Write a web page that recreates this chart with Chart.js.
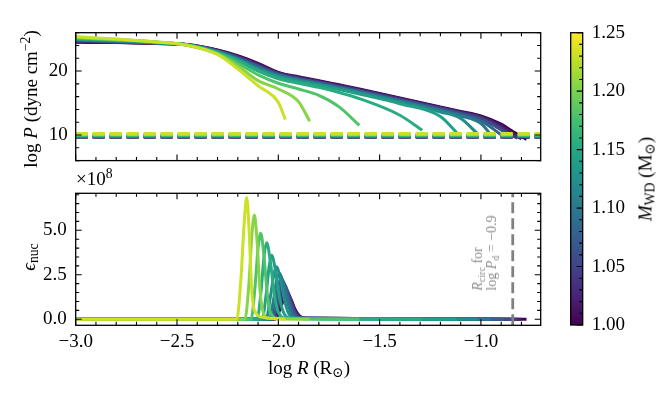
<!DOCTYPE html>
<html>
<head>
<meta charset="utf-8">
<script src="https://cdn.jsdelivr.net/npm/chart.js@4.4.0/dist/chart.umd.min.js"></script>
<style>
  body { margin: 0; background: #fff; }
  #wrap { position: relative; width: 671px; height: 396px; overflow: hidden; font-family: 'Liberation Serif', 'DejaVu Serif', serif; color: #000; }
  canvas { position: absolute; }
  .lbl { position: absolute; white-space: nowrap; font-size: 19px; line-height: 1; }
  .rot { transform: translate(-50%, -50%) rotate(-90deg); }
  .ctr { transform: translate(-50%, -50%); }
  .note { position: absolute; white-space: nowrap; font-size: 14px; line-height: 1.0; color: #8a8a8a; text-align: left; transform: translate(-50%, -50%) rotate(-90deg); }
  sub { font-size: 72%; vertical-align: -0.25em; line-height: 0; }
  sup { font-size: 72%; vertical-align: 0.5em; line-height: 0; }
</style>
</head>
<body>
<div id="wrap">
  <canvas id="top" width="560" height="180" style="left:0;top:0"></canvas>
  <canvas id="bot" width="560" height="226" style="left:0;top:170px"></canvas>
  <canvas id="cbar" width="111" height="396" style="left:560px;top:0"></canvas>
  <div class="lbl rot" style="left:30px;top:99px">log <i>P</i> (dyne cm<sup>−2</sup>)</div>
  <div class="lbl rot" style="left:28px;top:257px"><i>ϵ</i><sub>nuc</sub></div>
  <div class="lbl" style="left:76px;top:178px;transform:translateY(-50%)">×10<sup>8</sup></div>
  <div class="lbl ctr" style="left:309px;top:367px">log <i>R</i> (R<sub>⊙</sub>)</div>
  <div class="lbl rot" style="left:645px;top:179px"><i>M</i><sub>WD</sub> (M<sub>⊙</sub>)</div>
  <div class="note" style="left:485px;top:253px"><i>R</i><sub>circ</sub> for<br>log <i>P</i><sub>d</sub> = −0.9</div>
</div>
<script>
// white dwarf masses (Msun), one curve per mass
const masses = [1.00, 1.02, 1.04, 1.06, 1.08, 1.10, 1.12, 1.14, 1.155, 1.18, 1.205, 1.23];

// top panel: log P along a common log R grid, each row cut where the profile ends
const logRGrid = [-3.0, -2.8, -2.6, -2.45, -2.3, -2.2, -2.1, -2.0, -1.9, -1.8, -1.7, -1.6, -1.4, -1.2, -1.1, -1.0, -0.9, -0.85];
const logPRows = [
  [24.50, 24.45, 24.30, 24.15, 23.30, 22.40, 21.20, 19.80, 19.10, 18.50, 17.85, 17.20, 15.80, 14.40, 13.70, 13.00, 11.70, 10.70],
  [24.60, 24.50, 24.32, 24.14, 23.25, 22.30, 21.05, 19.70, 19.00, 18.40, 17.75, 17.10, 15.70, 14.30, 13.60, 12.85, 11.40, 10.40],
  [24.70, 24.55, 24.35, 24.13, 23.20, 22.20, 20.90, 19.60, 18.90, 18.30, 17.65, 17.00, 15.60, 14.20, 13.50, 12.70, 11.10, 10.00],
  [24.80, 24.60, 24.38, 24.12, 23.15, 22.10, 20.80, 19.50, 18.80, 18.20, 17.55, 16.90, 15.50, 14.10, 13.35, 12.50, 10.80],
  [24.85, 24.65, 24.40, 24.11, 23.10, 22.00, 20.65, 19.40, 18.70, 18.10, 17.45, 16.80, 15.40, 13.95, 13.20, 12.20],
  [24.90, 24.70, 24.42, 24.10, 23.05, 21.90, 20.50, 19.30, 18.60, 18.00, 17.35, 16.70, 15.30, 13.80, 13.00, 11.80],
  [24.95, 24.75, 24.45, 24.09, 23.00, 21.80, 20.35, 19.20, 18.50, 17.90, 17.25, 16.60, 15.15, 13.60, 12.60],
  [25.00, 24.80, 24.48, 24.08, 22.95, 21.70, 20.20, 19.05, 18.35, 17.75, 17.10, 16.40, 14.90, 12.90],
  [25.10, 24.85, 24.50, 24.07, 22.90, 21.55, 20.00, 18.80, 18.10, 17.45, 16.65, 15.70, 13.10],
  [25.20, 24.90, 24.52, 24.06, 22.75, 21.20, 19.40, 18.10, 17.20, 16.20, 14.40],
  [25.30, 24.95, 24.55, 24.05, 22.65, 20.80, 18.50, 17.20, 15.20],
  [25.40, 25.00, 24.55, 24.04, 22.60, 20.30, 17.70, 15.10]
];
const logREnd = [-0.775, -0.80, -0.82, -0.85, -0.89, -0.95, -1.02, -1.12, -1.29, -1.60, -1.845, -1.965];
const logPEnd = [9.30, 9.40, 9.50, 9.60, 9.80, 10.00, 10.30, 10.40, 10.75, 11.50, 12.15, 12.40];
// dashed reference level per mass
const logPDisk = [9.70, 9.72, 9.74, 9.76, 9.79, 9.82, 9.86, 9.90, 9.95, 10.02, 10.10, 10.20];

// bottom panel: eps_nuc in units of 1e8
const epsR = [
  [-3.0, -2.015, -1.992, -1.972, -1.957, -1.937, -1.917, -1.897, -1.865, -0.775],
  [-3.0, -2.020, -1.997, -1.977, -1.962, -1.942, -1.922, -1.902, -1.870, -0.80],
  [-3.0, -2.025, -2.002, -1.983, -1.968, -1.948, -1.928, -1.908, -1.875, -0.82],
  [-3.0, -2.030, -2.008, -1.990, -1.975, -1.955, -1.935, -1.915, -1.880, -0.85],
  [-3.0, -2.035, -2.015, -1.998, -1.985, -1.965, -1.945, -1.925, -1.890, -0.89],
  [-3.0, -2.045, -2.025, -2.008, -1.995, -1.975, -1.955, -1.935, -1.900, -0.95],
  [-3.0, -2.060, -2.040, -2.022, -2.010, -1.990, -1.970, -1.950, -1.920, -1.02],
  [-3.0, -2.080, -2.060, -2.045, -2.033, -2.015, -1.995, -1.975, -1.940, -1.12],
  [-3.0, -2.105, -2.085, -2.070, -2.057, -2.040, -2.020, -2.000, -1.960, -1.29],
  [-3.0, -2.135, -2.115, -2.100, -2.087, -2.072, -2.055, -2.040, -2.000, -1.60],
  [-3.0, -2.165, -2.145, -2.130, -2.118, -2.105, -2.090, -2.075, -2.050, -1.845],
  [-3.0, -2.205, -2.185, -2.168, -2.156, -2.145, -2.132, -2.118, -2.070, -1.965]
];
const epsV = [
  [0, 0, 0.55, 1.15, 1.40, 1.10, 0.55, 0.20, 0.05, 0],
  [0, 0, 0.60, 1.30, 1.60, 1.25, 0.60, 0.20, 0.05, 0],
  [0, 0, 0.70, 1.50, 1.80, 1.40, 0.70, 0.25, 0.05, 0],
  [0, 0, 0.80, 1.70, 2.05, 1.60, 0.80, 0.25, 0.05, 0],
  [0, 0, 0.90, 1.95, 2.30, 1.80, 0.90, 0.30, 0.05, 0],
  [0, 0, 1.00, 2.20, 2.60, 2.00, 1.00, 0.30, 0.05, 0],
  [0, 0, 1.20, 2.50, 2.95, 2.30, 1.10, 0.35, 0.05, 0],
  [0, 0, 1.40, 3.00, 3.60, 2.80, 1.30, 0.40, 0.05, 0],
  [0, 0, 1.60, 3.60, 4.30, 3.30, 1.40, 0.40, 0.05, 0],
  [0, 0, 1.80, 4.00, 4.83, 3.70, 1.50, 0.40, 0.05, 0],
  [0, 0, 2.00, 4.80, 5.86, 4.40, 1.60, 0.40, 0.05, 0],
  [0, 0, 2.20, 5.50, 6.85, 5.20, 1.80, 0.50, 0.10, 0]
];
const rCirc = -0.843;  // log R_circ for log P_d = -0.9

// axis limits and ticks
const xMin = -3.0, xMax = -0.705;
const topYMin = 6.0, topYMax = 26.0;
const epsMin = -0.34, epsMax = 7.08;
const cbarMin = 1.00, cbarMax = 1.25;
const xTicks = [-3.0, -2.5, -2.0, -1.5, -1.0];
const topYTicks = [10, 20];
const epsTicks = [0, 2.5, 5.0];
const cbarTicks = [1.00, 1.05, 1.10, 1.15, 1.20, 1.25];

// viridis
const viridisStops = ['#440154', '#482475', '#414487', '#355f8d', '#2a788e', '#21918c', '#22a884', '#44bf70', '#7ad151', '#bddf26', '#fde725'];
function hexRgb(h) { return [1, 3, 5].map(i => parseInt(h.slice(i, i + 2), 16)); }
function viridis(t) {
  t = Math.min(1, Math.max(0, t));
  const s = t * 10, k = Math.min(9, Math.floor(s)), f = s - k;
  const a = hexRgb(viridisStops[k]), b = hexRgb(viridisStops[k + 1]);
  return 'rgb(' + a.map((v, i) => Math.round(v + (b[i] - v) * f)).join(',') + ')';
}
const massColor = m => viridis((m - cbarMin) / (cbarMax - cbarMin));

const FONT = { family: "'Liberation Serif', 'DejaVu Serif', serif", size: 19 };
const minus = s => s.replace('-', '\u2212');

function minorValues(min, max, step) {
  const out = [];
  for (let k = Math.ceil(min / step - 1e-9); k * step <= max + 1e-9; k++) out.push(k * step);
  return out;
}

// matplotlib style frame with inward ticks
const frameTicks = {
  id: 'frameTicks',
  afterDatasetsDraw(chart, args, o) {
    const ctx = chart.ctx, a = chart.chartArea;
    ctx.save();
    ctx.strokeStyle = '#000';
    ctx.lineWidth = 1.1;
    ctx.beginPath();
    const xs = chart.scales.x, ys = chart.scales.y;
    if (o.xMinor) {
      const marks = xs.ticks.map(t => [t.value, 6]).concat(minorValues(xs.min, xs.max, o.xMinor).map(v => [v, 3.5]));
      marks.forEach(([v, len]) => {
        const p = xs.getPixelForValue(v);
        ctx.moveTo(p, a.bottom); ctx.lineTo(p, a.bottom - len);
        ctx.moveTo(p, a.top); ctx.lineTo(p, a.top + len);
      });
    }
    if (o.yMinor) {
      const marks = ys.ticks.map(t => [t.value, 6]).concat(minorValues(ys.min, ys.max, o.yMinor).map(v => [v, 3.5]));
      marks.forEach(([v, len]) => {
        const p = ys.getPixelForValue(v);
        if (!o.rightOnly) { ctx.moveTo(a.left, p); ctx.lineTo(a.left + len, p); }
        ctx.moveTo(a.right, p); ctx.lineTo(a.right - len, p);
      });
    }
    ctx.stroke();
    ctx.lineWidth = 1.3;
    ctx.strokeRect(a.left, a.top, a.right - a.left, a.bottom - a.top);
    ctx.restore();
  }
};

const gradientFill = {
  id: 'gradientFill',
  beforeDatasetsDraw(chart) {
    const ctx = chart.ctx, a = chart.chartArea;
    const g = ctx.createLinearGradient(0, a.bottom, 0, a.top);
    viridisStops.forEach((c, i) => g.addColorStop(i / 10, c));
    ctx.save();
    ctx.fillStyle = g;
    ctx.fillRect(a.left, a.top, a.right - a.left, a.bottom - a.top);
    ctx.restore();
  }
};

const lineBase = { pointRadius: 0, showLine: true, fill: false, cubicInterpolationMode: 'monotone', borderCapStyle: 'butt', borderJoinStyle: 'round' };
const N = masses.length;

// top panel datasets
const topSets = [];
masses.forEach((m, i) => {
  const pts = logPRows[i].map((p, k) => ({ x: logRGrid[k], y: p }));
  pts.push({ x: logREnd[i], y: logPEnd[i] });
  topSets.push(Object.assign({ data: pts, borderColor: massColor(m), borderWidth: 3, order: 100 + (N - i) }, lineBase));
  topSets.push(Object.assign({}, lineBase, {
    data: [{ x: xMin, y: logPDisk[i] }, { x: xMax, y: logPDisk[i] }],
    borderColor: massColor(m), borderWidth: 3.3, borderDash: [12, 5], order: N - i, cubicInterpolationMode: 'default'
  }));
});

// bottom panel datasets
const botSets = [];
masses.forEach((m, i) => {
  const pts = epsR[i].map((r, k) => ({ x: r, y: epsV[i][k] }));
  botSets.push(Object.assign({ data: pts, borderColor: massColor(m), borderWidth: 3, order: 100 + (N - i) }, lineBase));
});
botSets.push(Object.assign({}, lineBase, {
  data: [{ x: rCirc, y: epsMin }, { x: rCirc, y: epsMax }],
  borderColor: '#808080', borderWidth: 2.8, borderDash: [11, 5], order: 0, cubicInterpolationMode: 'default'
}));

function setTicks(list) { return scale => { scale.ticks = list.map(v => ({ value: v })); }; }
function fixW(w) { return scale => { scale.width = w; }; }
function fixH(h) { return scale => { scale.height = h; }; }

const common = {
  responsive: false,
  animation: false,
  devicePixelRatio: 1,
  plugins: { legend: { display: false }, tooltip: { enabled: false } }
};

new Chart(document.getElementById('top'), {
  type: 'scatter',
  data: { datasets: topSets },
  options: Object.assign({}, common, {
    layout: { padding: { left: 0, right: 19.3, top: 32.7, bottom: 14 } },
    plugins: Object.assign({}, common.plugins, { frameTicks: { xMinor: 0.1, yMinor: 2 } }),
    scales: {
      x: {
        type: 'linear', min: xMin, max: xMax,
        grid: { display: false, drawTicks: false }, border: { display: false },
        ticks: { display: false, includeBounds: false },
        afterBuildTicks: setTicks(xTicks), afterFit: fixH(0)
      },
      y: {
        type: 'linear', min: topYMin, max: topYMax,
        grid: { display: false, drawTicks: false }, border: { display: false },
        ticks: { font: FONT, color: '#000', padding: 8, includeBounds: false, callback: v => String(v) },
        afterBuildTicks: setTicks(topYTicks), afterFit: fixW(75.7)
      }
    }
  }),
  plugins: [frameTicks]
});

new Chart(document.getElementById('bot'), {
  type: 'scatter',
  data: { datasets: botSets },
  options: Object.assign({}, common, {
    layout: { padding: { left: 0, right: 19.3, top: 23.3, bottom: 30.7 } },
    plugins: Object.assign({}, common.plugins, { frameTicks: { xMinor: 0.1, yMinor: 0.5 } }),
    scales: {
      x: {
        type: 'linear', min: xMin, max: xMax,
        grid: { display: false, drawTicks: false }, border: { display: false },
        ticks: { font: FONT, color: '#000', padding: 5, maxRotation: 0, includeBounds: false, callback: v => minus(v.toFixed(1)) },
        afterBuildTicks: setTicks(xTicks), afterFit: fixH(40)
      },
      y: {
        type: 'linear', min: epsMin, max: epsMax,
        grid: { display: false, drawTicks: false }, border: { display: false },
        ticks: { font: FONT, color: '#000', padding: 9, includeBounds: false, callback: v => v.toFixed(1) },
        afterBuildTicks: setTicks(epsTicks), afterFit: fixW(75.7)
      }
    }
  }),
  plugins: [frameTicks]
});

new Chart(document.getElementById('cbar'), {
  type: 'scatter',
  data: { datasets: [] },
  options: Object.assign({}, common, {
    layout: { padding: { left: 10.7, right: 0, top: 32.7, bottom: 71 } },
    plugins: Object.assign({}, common.plugins, { frameTicks: { yMinor: 0.01, rightOnly: true } }),
    scales: {
      x: { type: 'linear', display: false, min: 0, max: 1 },
      y: {
        type: 'linear', position: 'right', min: cbarMin, max: cbarMax,
        grid: { display: false, drawTicks: false }, border: { display: false },
        ticks: { font: FONT, color: '#000', padding: 9, includeBounds: false, callback: v => v.toFixed(2) },
        afterBuildTicks: setTicks(cbarTicks), afterFit: fixW(88.3)
      }
    }
  }),
  plugins: [gradientFill, frameTicks]
});
</script>
</body>
</html>
